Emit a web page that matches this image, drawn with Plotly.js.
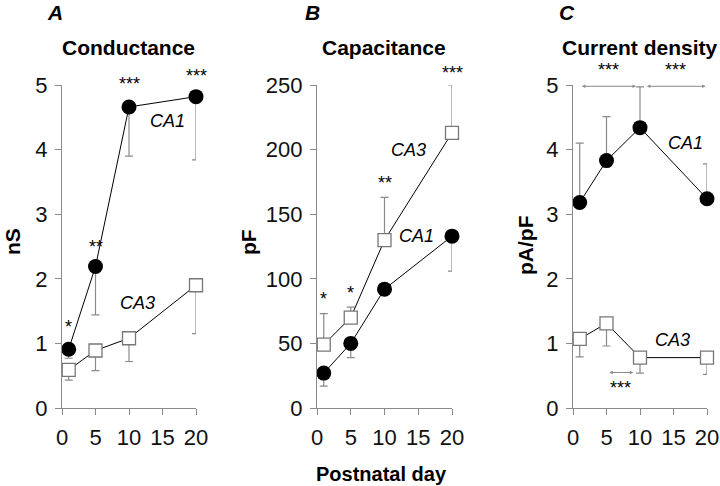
<!DOCTYPE html>
<html>
<head>
<meta charset="utf-8">
<script src="https://cdn.plot.ly/plotly-3.0.1.min.js"></script>
<style>
  html, body { margin: 0; padding: 0; background: #fff; }
  #chart { width: 720px; height: 486px; }
</style>
</head>
<body>
<div id="chart"></div>
<script>
    // Postnatal days (x values)
    var days = [1, 5, 10, 20];

    // A - conductance (nS), error bars shown downward
    var ca1Cond = [0.91, 2.19, 4.66, 4.82];
    var ca1CondErr = [0.14, 0.75, 0.76, 0.98];
    var ca3Cond = [0.59, 0.89, 1.08, 1.90];
    var ca3CondErr = [0.16, 0.31, 0.36, 0.75];

    // B - capacitance (pF), CA3 error up, CA1 error down
    var ca1Cap = [27, 50, 92, 133];
    var ca1CapErr = [10, 11, 4, 27];
    var ca3Cap = [49, 70, 130, 213];
    var ca3CapErr = [24, 8, 33, 37];

    // C - current density (pA/pF), CA1 error up, CA3 error down
    var ca1Dens = [3.18, 3.83, 4.34, 3.24];
    var ca1DensErr = [0.92, 0.68, 0.63, 0.54];
    var ca3Dens = [1.07, 1.31, 0.78, 0.78];
    var ca3DensErr = [0.28, 0.35, 0.24, 0.26];

    // significance stars above points
    var starsCond = ['*', '**', '***', '***'];
    var starsCondY = [1.26, 2.5, 5.02, 5.14];
    var starsCap = ['*', '*', '**', '***'];
    var starsCapY = [84, 89, 174, 259];

    // significance spans in panel C: [from day, to day, y, stars y]
    var spans = [[1.1, 9.4, 4.98, 5.23], [10.8, 19.8, 4.98, 5.23], [5.2, 9.0, 0.55, 0.31]];

    var grey = '#8a8a8a';
    var police = 'Liberation Sans, Arial, sans-serif';
    var zeros = [0, 0, 0, 0];
    var hauteurPx = 323; // hauteur de la zone de tracé en pixels

    function serieCA1(x, y, err, haut, xa, ya) {
        return {
            x: x, y: y, xaxis: xa, yaxis: ya, type: 'scatter', mode: 'lines+markers',
            cliponaxis: false,
            line: { color: '#000', width: 1 },
            marker: { symbol: 'circle', size: 15, color: '#000' },
            error_y: { type: 'data', symmetric: false,
                       array: haut ? err : zeros, arrayminus: haut ? zeros : err,
                       color: grey, thickness: 1.2, width: 4 }
        };
    }
    function serieCA3(x, y, err, haut, xa, ya) {
        return {
            x: x, y: y, xaxis: xa, yaxis: ya, type: 'scatter', mode: 'lines+markers',
            cliponaxis: false,
            line: { color: '#000', width: 1 },
            marker: { symbol: 'square', size: 13, color: '#fff', line: { color: '#777', width: 1.3 } },
            error_y: { type: 'data', symmetric: false,
                       array: haut ? err : zeros, arrayminus: haut ? zeros : err,
                       color: grey, thickness: 1.2, width: 4 }
        };
    }

    var traces = [
        serieCA3(days, ca3Cond, ca3CondErr, false, 'x', 'y'),
        serieCA1(days, ca1Cond, ca1CondErr, false, 'x', 'y'),
        serieCA1(days, ca1Cap, ca1CapErr, false, 'x2', 'y2'),
        serieCA3(days, ca3Cap, ca3CapErr, true, 'x2', 'y2'),
        serieCA1(days, ca1Dens, ca1DensErr, true, 'x3', 'y3'),
        serieCA3(days, ca3Dens, ca3DensErr, false, 'x3', 'y3')
    ];

    function axeX(dom, ancre) {
        return {
            domain: dom, anchor: ancre, range: [0, 20], tickvals: [0, 5, 10, 15, 20],
            ticks: 'outside', ticklen: 6, tickcolor: grey, showline: true, linecolor: grey,
            linewidth: 1.2, showgrid: false, zeroline: false, fixedrange: true,
            ticklabelstandoff: 3,
            tickfont: { family: police, size: 22, color: '#111' }
        };
    }
    function axeY(ancre, max, pas) {
        return {
            domain: [0.1605, 0.8251], anchor: ancre, range: [0, max], dtick: pas,
            ticks: 'outside', ticklen: 6, tickcolor: grey, showline: true, linecolor: grey,
            linewidth: 1.2, showgrid: false, zeroline: false, fixedrange: true,
            ticklabelstandoff: 3,
            tickfont: { family: police, size: 22, color: '#111' }
        };
    }

    var annotations = [];
    function texte(t, x, y, taille, opts) {
        var a = { text: t, x: x, y: y, xref: 'paper', yref: 'paper', showarrow: false,
                  xanchor: 'center', yanchor: 'middle',
                  font: { family: police, size: taille, color: '#000' } };
        return Object.assign(a, opts || {});
    }
    // panel letters and titles
    annotations.push(texte('<b><i>A</i></b>', 55 / 720, 1 - 12 / 486, 21));
    annotations.push(texte('<b><i>B</i></b>', 312 / 720, 1 - 12 / 486, 21));
    annotations.push(texte('<b><i>C</i></b>', 567 / 720, 1 - 12 / 486, 21));
    annotations.push(texte('<b>Conductance</b>', 128 / 720, 1 - 47 / 486, 21));
    annotations.push(texte('<b>Capacitance</b>', 384 / 720, 1 - 47 / 486, 21));
    annotations.push(texte('<b>Current density</b>', 640 / 720, 1 - 47 / 486, 21));
    annotations.push(texte('<b>nS</b>', 12 / 720, 1 - 242 / 486, 21, { textangle: -90 }));
    annotations.push(texte('<b>pF</b>', 248 / 720, 1 - 242 / 486, 21, { textangle: -90 }));
    annotations.push(texte('<b>pA/pF</b>', 525 / 720, 1 - 245 / 486, 21, { textangle: -90 }));
    annotations.push(texte('<b>Postnatal day</b>', 381 / 720, 1 - 474 / 486, 20));

    // étiquette en coordonnées de données ; au-dessus du max, on décale en pixels
    function etiquette(t, x, y, xa, ya, taille, max) {
        var decal = 0;
        if (max !== undefined && y > max) {
            decal = (y - max) * hauteurPx / max;
            y = max;
        }
        return { text: t, x: x, y: y, xref: xa, yref: ya, showarrow: false,
                 xanchor: 'center', yanchor: 'middle', yshift: decal,
                 font: { family: police, size: taille, color: '#000' } };
    }
    // series labels
    annotations.push(etiquette('<i>CA1</i>', 15.8, 4.45, 'x', 'y', 18));
    annotations.push(etiquette('<i>CA3</i>', 11.3, 1.62, 'x', 'y', 18));
    annotations.push(etiquette('<i>CA3</i>', 13.6, 200, 'x2', 'y2', 18));
    annotations.push(etiquette('<i>CA1</i>', 14.8, 133, 'x2', 'y2', 18));
    annotations.push(etiquette('<i>CA1</i>', 16.8, 4.1, 'x3', 'y3', 18));
    annotations.push(etiquette('<i>CA3</i>', 14.8, 1.05, 'x3', 'y3', 18));

    // stars
    days.forEach(function(d, i) {
        annotations.push(etiquette(starsCond[i], d, starsCondY[i], 'x', 'y', 18, 5));
        annotations.push(etiquette(starsCap[i], d, starsCapY[i], 'x2', 'y2', 18, 250));
    });

    spans.forEach(function(s) {
        annotations.push({ x: s[1], y: s[2], ax: s[0], ay: s[2], xref: 'x3', yref: 'y3',
                           axref: 'x3', ayref: 'y3', text: '', showarrow: true,
                           arrowside: 'end+start', arrowhead: 2, arrowsize: 0.7,
                           arrowwidth: 1, arrowcolor: grey, standoff: 0, startstandoff: 0 });
        annotations.push(etiquette('***', (s[0] + s[1]) / 2, s[3], 'x3', 'y3', 18, 5));
    });

    var layout = {
        width: 720, height: 486,
        margin: { l: 0, r: 0, t: 0, b: 0 },
        paper_bgcolor: '#fff', plot_bgcolor: '#fff',
        showlegend: false,
        xaxis: axeX([62 / 720, 196 / 720], 'y'),
        yaxis: axeY('x', 5, 1),
        xaxis2: axeX([317 / 720, 452 / 720], 'y2'),
        yaxis2: axeY('x2', 250, 50),
        xaxis3: axeX([573 / 720, 707 / 720], 'y3'),
        yaxis3: axeY('x3', 5, 1),
        annotations: annotations
    };

    Plotly.newPlot('chart', traces, layout, { displayModeBar: false, staticPlot: true });
</script>
</body>
</html>
